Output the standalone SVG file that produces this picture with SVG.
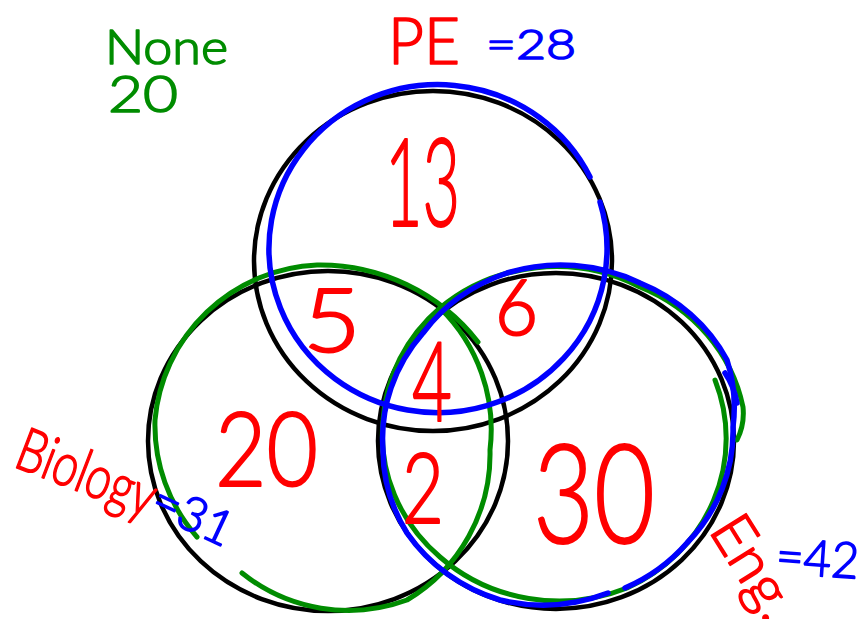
<svg xmlns="http://www.w3.org/2000/svg" width="863" height="619" viewBox="0 0 863 619">
<style>
.blk{fill:none;stroke:#000;stroke-width:4.5}
.blu{fill:none;stroke:#0000ff;stroke-width:5.5;stroke-linecap:round;stroke-linejoin:round}
.grn{fill:none;stroke:#008c00;stroke-width:5;stroke-linecap:round;stroke-linejoin:round}
text{font-family:"Lato","Liberation Sans",sans-serif;font-weight:300;stroke-width:1.6;stroke-linejoin:round}
.r{fill:#ff0000;stroke:#ff0000}
.b{fill:#0000ff;stroke:#0000ff}
.g{fill:#008c00;stroke:#008c00}
#counts text{stroke-width:2}
</style>
<rect width="863" height="619" fill="#fff"/>
<g id="pe">
<ellipse class="blk" cx="433" cy="261" rx="179" ry="170"/>
</g>
<g id="biology">
<ellipse class="blk" cx="328" cy="441" rx="180" ry="170"/>
</g>
<g id="english">
<ellipse class="blk" cx="556" cy="441" rx="178" ry="168"/>
</g>
<g id="green-strokes">
<path class="grn" d="M478 342 A200 200 0 0 0 317 265 A170 170 0 0 0 155 420 A170 170 0 0 0 197 537"/>
<path class="grn" d="M242 573 A170 170 0 0 0 407 600 A170 170 0 0 0 490 450 A170 170 0 0 0 440 308"/>
<path class="grn" d="M715 380 A172 165 0 0 1 627 588 A175 165 0 0 1 440 557 A175 165 0 0 1 383 420 A175 165 0 0 1 440 308 A175 165 0 0 1 640 287 A175 165 0 0 1 743 407 A60 60 0 0 1 737 440"/>
</g>
<g id="blue-strokes">
<path class="blu" d="M600 202 A169 164 0 1 1 590 177"/>
<path class="blu" d="M608 593 A175 165 0 0 1 500 600 A175 165 0 0 1 407 533 A175 165 0 0 1 383 450 A175 165 0 0 1 423 333 A175 165 0 0 1 507 273 A175 165 0 0 1 640 283 A175 165 0 0 1 727 360 A175 165 0 0 1 733 427 A175 165 0 0 1 687 543 A175 165 0 0 1 625 588"/>
<path class="blu" d="M725 373 Q734 386 737 403"/>
</g>
<g id="labels">
<text class="g" x="105" y="64" font-size="48" textLength="123" lengthAdjust="spacingAndGlyphs">None</text>
<text class="g" x="108" y="112" font-size="51" textLength="70" lengthAdjust="spacingAndGlyphs">20</text>
<text class="r" x="388" y="64" font-size="65" textLength="72" lengthAdjust="spacingAndGlyphs">PE</text>
<text class="b" x="486" y="59" font-size="42" textLength="90" lengthAdjust="spacingAndGlyphs">=28</text>
<text class="r" transform="translate(12 466) rotate(21)" font-size="60" textLength="145" lengthAdjust="spacingAndGlyphs">Biology</text>
<text class="b" transform="translate(148 512) rotate(25)" font-size="48" textLength="84" lengthAdjust="spacingAndGlyphs">=31</text>
<text class="r" transform="translate(708 530) rotate(58)" font-size="58" textLength="112" lengthAdjust="spacingAndGlyphs">Eng.</text>
<text class="b" transform="translate(775 573) rotate(4)" font-size="50" textLength="83" lengthAdjust="spacingAndGlyphs">=42</text>
</g>
<g id="counts">
<text class="r" x="385" y="226" font-size="122" textLength="75" lengthAdjust="spacingAndGlyphs">13</text>
<text class="r" x="303" y="352" font-size="89" textLength="58" lengthAdjust="spacingAndGlyphs">5</text>
<text class="r" x="495" y="335" font-size="76" textLength="43" lengthAdjust="spacingAndGlyphs">6</text>
<text class="r" x="412" y="421" font-size="111" textLength="40" lengthAdjust="spacingAndGlyphs">4</text>
<text class="r" x="215" y="486" font-size="103" textLength="103" lengthAdjust="spacingAndGlyphs">20</text>
<text class="r" x="402" y="523" font-size="97" textLength="42" lengthAdjust="spacingAndGlyphs">2</text>
<text class="r" x="533" y="543" font-size="139" textLength="122" lengthAdjust="spacingAndGlyphs">30</text>
</g>
</svg>
